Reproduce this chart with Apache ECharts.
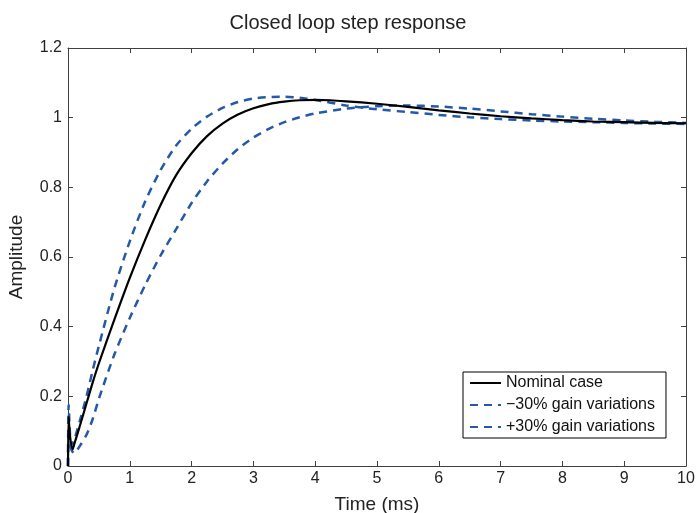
<!DOCTYPE html>
<html>
<head>
<meta charset="utf-8">
<script src="https://cdn.jsdelivr.net/npm/echarts@6/dist/echarts.min.js"></script>
<style>html,body{margin:0;padding:0;background:#fff;}#c{width:696px;height:513px;}</style>
</head>
<body>
<div id="c"></div>
<script>
var titleText = 'Closed loop step response';
var xName = 'Time (ms)';
var yName = 'Amplitude';
var seriesNames = ['Nominal case', '\u221230% gain variations', '+30% gain variations'];
var xTicks = [0,1,2,3,4,5,6,7,8,9,10];
var yTicks = [0,0.2,0.4,0.6,0.8,1,1.2];

var nominalT = [0,0.01,0.03,0.075,0.1,0.2,0.3,0.4,0.5,0.75,1.0,1.25,1.5,1.75,2.0,2.25,2.5,2.75,3.0,3.25,3.5,3.75,4.0,4.25,4.5,5.0,5.5,6.0,6.5,7.0,7.5,8.0,8.5,9.0,9.5,10];
var nominalY = [0,0.142,0.09,0.048,0.062,0.12,0.18,0.24,0.295,0.42,0.54,0.65,0.75,0.835,0.898,0.947,0.983,1.009,1.027,1.039,1.046,1.05,1.051,1.05,1.047,1.04,1.031,1.021,1.012,1.004,0.998,0.993,0.989,0.987,0.985,0.984];

var slowT = [0,0.01,0.03,0.06,0.1,0.2,0.3,0.4,0.5,0.75,1.0,1.25,1.5,1.75,2.0,2.25,2.5,2.75,3.0,3.25,3.5,3.75,4.0,4.5,5.0,5.5,6.0,6.5,7.0,7.5,8.0,8.5,9.0,9.5,10];
var slowY = [0,0.11,0.07,0.045,0.037,0.06,0.09,0.135,0.193,0.32,0.425,0.52,0.605,0.68,0.755,0.817,0.868,0.91,0.943,0.968,0.987,1.001,1.012,1.026,1.033,1.035,1.032,1.026,1.018,1.01,1.003,0.997,0.992,0.988,0.985];

var fastT = [0,0.01,0.03,0.05,0.1,0.2,0.3,0.4,0.5,0.75,1.0,1.25,1.5,1.75,2.0,2.25,2.5,2.75,3.0,3.25,3.5,3.75,4.0,4.5,5.0,5.5,6.0,6.5,7.0,7.5,8.0,8.5,9.0,9.5,10];
var fastY = [0,0.176,0.1,0.06,0.075,0.135,0.2,0.275,0.345,0.51,0.645,0.76,0.85,0.92,0.968,1.003,1.028,1.045,1.055,1.059,1.06,1.057,1.051,1.035,1.024,1.016,1.008,1.001,0.996,0.992,0.989,0.987,0.985,0.983,0.982];

function zip(a,b){return a.map(function(v,i){return [v,b[i]];});}

var chart = echarts.init(document.getElementById('c'), null, {renderer:'canvas'});
var font = 'Liberation Sans, Arial, Helvetica, sans-serif';
var axisColor = '#404040';
var blue = '#2559a8';
var axisCommon = {
  min: 0,
  axisLine: {show: true, onZero: false, lineStyle: {color: axisColor, width: 1}},
  axisTick: {show: true, inside: true, length: 5, lineStyle: {color: axisColor}},
  splitLine: {show: false}
};
chart.setOption({
  animation: false,
  backgroundColor: '#fff',
  title: {text: titleText, left: 'center', top: 8, textStyle: {fontFamily: font, fontSize: 20, fontWeight: 'normal', color: '#222'}},
  grid: {left: 68, right: 10, top: 48, bottom: 47, containLabel: false, outerBoundsMode: 'none'},
  legend: {
    orient: 'vertical', left: 463, top: 372,
    backgroundColor: '#fff', borderColor: '#000', borderWidth: 1, borderRadius: 0,
    padding: [3, 11, 3, 6], itemGap: 6, itemWidth: 31, itemHeight: 14,
    itemStyle: {opacity: 0},
    textStyle: {fontFamily: font, fontSize: 16, color: '#111'},
    data: seriesNames
  },
  xAxis: [
    Object.assign({}, axisCommon, {type: 'value', position: 'bottom', max: 10, interval: 1,
      name: xName, nameLocation: 'middle', nameGap: 29,
      nameTextStyle: {fontFamily: font, fontSize: 19, color: '#222'},
      axisLabel: {fontFamily: font, fontSize: 16, color: '#222', margin: 5,
        formatter: function(v){return xTicks.indexOf(v) >= 0 ? String(v) : '';}}}),
    Object.assign({}, axisCommon, {type: 'value', position: 'top', max: 10, interval: 1, axisLabel: {show: false}})
  ],
  yAxis: [
    Object.assign({}, axisCommon, {type: 'value', position: 'left', max: 1.2, interval: 0.2,
      name: yName, nameLocation: 'middle', nameGap: 42, nameRotate: 90,
      nameTextStyle: {fontFamily: font, fontSize: 19, color: '#222'},
      axisLabel: {fontFamily: font, fontSize: 16, color: '#222', margin: 6,
        formatter: function(v){var r = Math.round(v*10)/10; return yTicks.indexOf(r) >= 0 ? String(r) : '';}}}),
    Object.assign({}, axisCommon, {type: 'value', position: 'right', max: 1.2, interval: 0.2, axisLabel: {show: false}})
  ],
  series: [
    {name: seriesNames[0], type: 'line', data: zip(nominalT, nominalY), symbol: 'none', smooth: 0.25, z: 3,
     lineStyle: {color: '#000', width: 2.2}, itemStyle: {color: '#000'}},
    {name: seriesNames[1], type: 'line', data: zip(slowT, slowY), symbol: 'none', smooth: 0.25, z: 2,
     lineStyle: {color: blue, width: 2.5, type: [8, 6]}, itemStyle: {color: blue}},
    {name: seriesNames[2], type: 'line', data: zip(fastT, fastY), symbol: 'none', smooth: 0.25, z: 2,
     lineStyle: {color: blue, width: 2.5, type: [8, 6]}, itemStyle: {color: blue}}
  ]
});
</script>
</body>
</html>
